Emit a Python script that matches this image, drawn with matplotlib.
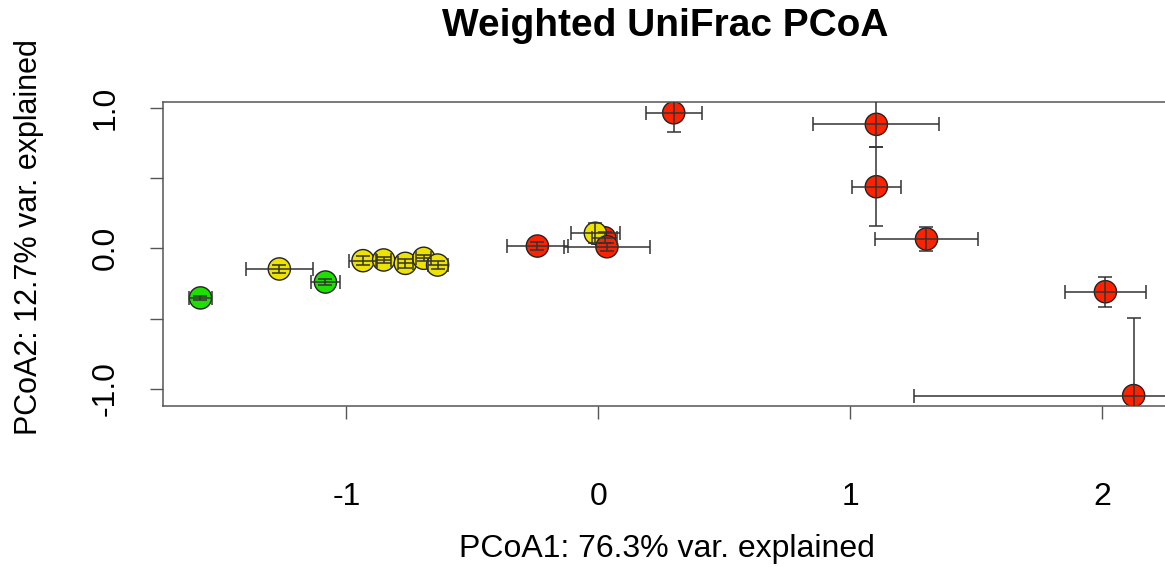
import matplotlib.pyplot as plt
import numpy as np

plt.rcParams['font.family'] = ['Liberation Sans', 'DejaVu Sans']

# sample coordinates on the first two axes, with spread (error) per axis
pc1 = [-1.579, -1.266, -1.083, -0.934, -0.852, -0.766, -0.693, -0.638,
       -0.242, 0.025, -0.012, 0.034, 0.299, 1.103, 1.103, 1.302, 2.012, 2.124]
pc2 = [-0.353, -0.147, -0.240, -0.088, -0.083, -0.107, -0.071, -0.119,
       0.016, 0.075, 0.107, 0.011, 0.964, 0.882, 0.438, 0.066, -0.309, -1.048]
pc1_err = [0.045, 0.132, 0.058, 0.054, 0.030, 0.030, 0.030, 0.040,
           0.120, 0.050, 0.097, 0.170, 0.111, 0.250, 0.097, 0.205, 0.161, 0.873]
pc2_err = [0.015, 0.030, 0.020, 0.030, 0.020, 0.030, 0.020, 0.030,
           0.030, 0.040, 0.070, 0.030, 0.135, 0.164, 0.280, 0.085, 0.107, 0.550]
group = ['green', 'yellow', 'green', 'yellow', 'yellow', 'yellow', 'yellow', 'yellow',
         'red', 'red', 'yellow', 'red', 'red', 'red', 'red', 'red', 'red', 'red']

palette = {'green': '#1EE000', 'yellow': '#EEE200', 'red': '#FF2200'}

fig = plt.figure(figsize=(11.65, 5.67), dpi=100)
# plot region runs past the right edge of the picture, like the cropped original
ax_w = 1178 - 163
ax_h = 406 - 101.7
ax = fig.add_axes([163 / 1165, 1 - 406 / 567, ax_w / 1165, ax_h / 567])

ax.scatter(pc1, pc2, s=16 ** 2, c=[palette[g] for g in group],
           edgecolors='#222222', linewidths=1.0, zorder=2)
ax.errorbar(pc1, pc2, xerr=pc1_err, yerr=pc2_err, fmt='none', ecolor='#333333',
            elinewidth=1.1, capsize=4.8, capthick=1.1, zorder=3)

ax.set_xlim(-1.7276, 2.3)
ax.set_ylim(-1.122, 1.043)

ax.set_xticks([-1, 0, 1, 2])
ax.set_xticklabels(['-1', '0', '1', '2'])
ax.set_yticks([-1.0, -0.5, 0.0, 0.5, 1.0])
ax.set_yticklabels(['-1.0', '', '0.0', '', '1.0'], rotation=90, va='center')

for s in ax.spines.values():
    s.set_color('#555555')
    s.set_linewidth(1.1)
ax.tick_params(direction='out', length=9.5, width=1.0, color='#555555',
               labelsize=23)
ax.tick_params(axis='x', pad=45)
ax.tick_params(axis='y', pad=21)

fig.text(665 / 1165, 1 - 26 / 567, 'Weighted UniFrac PCoA', fontsize=28,
         fontweight='bold', ha='center', va='center')

ax.set_xlabel('PCoA1: 76.3% var. explained', fontsize=23)
ax.set_ylabel('PCoA2: 12.7% var. explained', fontsize=22)
ax.xaxis.set_label_coords((667 - 163) / ax_w, -(534 - 406) / ax_h)
ax.yaxis.set_label_coords(-(163 - 44) / ax_w, (406 - 237) / ax_h)

fig.savefig('out.png', dpi=100)
